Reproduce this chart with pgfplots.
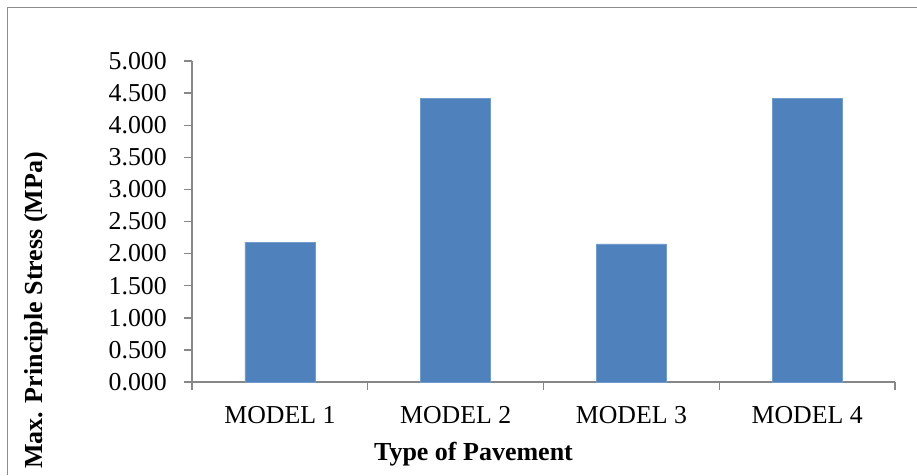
\documentclass[border=0pt]{standalone}
\usepackage{fontspec}
\setmainfont{Liberation Serif}
\usepackage{pgfplots}
\pgfplotsset{compat=1.18}
\definecolor{barblue}{HTML}{4F81BD}
\definecolor{axgray}{HTML}{878787}
\definecolor{framegray}{HTML}{8C8C8C}
\begin{document}
\begin{tikzpicture}[x=1pt,y=1pt]
\useasboundingbox (0,0) rectangle (917,475);
\draw[color=framegray, line width=1.6pt] (7.5,0) -- (7.5,467.5) -- (917,467.5);
\begin{axis}[
  at={(192pt,93pt)}, anchor=south west,
  scale only axis, width=703pt, height=321pt,
  xmin=0.5, xmax=4.5, ymin=0, ymax=5,
  axis x line*=bottom, axis y line*=left,
  x axis line style={-}, y axis line style={-},
  axis line style={color=axgray, line width=1.6pt},
  tick style={color=axgray, line width=1.4pt},
  tick align=outside,
  xtick={1,2,3,4},
  xticklabels={MODEL 1,MODEL 2,MODEL 3,MODEL 4},
  major x tick style={draw=none},
  minor xtick={0.5,1.5,2.5,3.5,4.5},
  minor tick length=8pt,
  major tick length=8pt,
  ytick={0,0.5,1,1.5,2,2.5,3,3.5,4,4.5,5},
  yticklabel style={/pgf/number format/fixed, /pgf/number format/fixed zerofill, /pgf/number format/precision=3, /pgf/number format/assume math mode=true, inner sep=0pt, xshift=-17pt},
  ticklabel style={font=\fontsize{25.8}{30}\selectfont},
  xticklabel style={anchor=base, inner sep=0pt, yshift=-33pt},
  ybar, bar width=70pt,
]
\addplot[fill=barblue, draw=barblue!80!white, line width=0.6pt] coordinates {(1,2.18) (2,4.42) (3,2.15) (4,4.42)};
\end{axis}
\node[rotate=90, anchor=base, inner sep=0pt, font=\bfseries\fontsize{26}{30}\selectfont] at (43,164.5) {Max. Principle Stress (MPa)};
\node[anchor=base, inner sep=0pt, font=\bfseries\fontsize{26}{30}\selectfont] at (473.5,15) {Type of Pavement};
\end{tikzpicture}
\end{document}
